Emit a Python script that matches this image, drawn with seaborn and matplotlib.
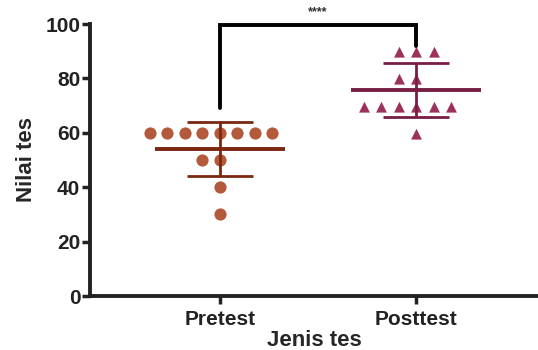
import pandas as pd
import seaborn as sns
import matplotlib.pyplot as plt
import numpy as np

# nilai per kelompok
groups = ['Pretest', 'Posttest']
pretest = [60, 60, 60, 60, 60, 60, 60, 60, 50, 50, 40, 30]
posttest = [90, 90, 90, 80, 80, 70, 70, 70, 70, 70, 70, 60]
dot_colors = ['#B35A3C', '#9C325A']
line_colors = ['#7A2810', '#781E45']
sig_label = '****'

df = pd.DataFrame({
    'Jenis tes': ['Pretest'] * len(pretest) + ['Posttest'] * len(posttest),
    'Nilai tes': pretest + posttest,
})

sns.set_style('ticks')
plt.rcParams['font.family'] = ['Liberation Sans', 'DejaVu Sans']

fig = plt.figure(figsize=(5.38, 3.5), dpi=100)
ax = fig.add_axes([90 / 538, 1 - 296 / 350, 1 - 90 / 538, (296 - 24) / 350])

# swarm of individual scores, circles for pretest, triangles for posttest
for g, c, m in zip(groups, dot_colors, ['o', '^']):
    sub = df.copy()
    sub.loc[sub['Jenis tes'] != g, 'Nilai tes'] = np.nan
    sns.swarmplot(data=sub, x='Jenis tes', y='Nilai tes', order=groups,
                  color=c, marker=m, size=10.4, edgecolor='white',
                  linewidth=1.6, ax=ax, zorder=2)

# mean +/- SD
stats = df.groupby('Jenis tes')['Nilai tes'].agg(['mean', 'std']).reindex(groups)
for i, g in enumerate(groups):
    mu, sd = stats.loc[g, 'mean'], stats.loc[g, 'std']
    lc = line_colors[i]
    ax.hlines(mu, i - 0.33, i + 0.33, color=lc, lw=2.8, zorder=3)
    ax.vlines(i, mu - sd, mu + sd, color=lc, lw=2, zorder=3)
    ax.hlines([mu - sd, mu + sd], i - 0.17, i + 0.17, color=lc, lw=2, zorder=3)

# significance bracket
ax.plot([0, 0, 1, 1], [69, 99.5, 99.5, 92], color='black', lw=2.8,
        clip_on=False, solid_joinstyle='miter', zorder=4)
ax.text(0.5, 102, sig_label, ha='center', va='bottom', fontsize=9,
        fontweight='bold', color='#333333')

ax.set_xlim(-0.663, 1.622)
ax.set_ylim(0, 100)
ax.set_yticks([0, 20, 40, 60, 80, 100])
ax.set_xlabel('Jenis tes', fontsize=16, fontweight='bold', labelpad=1)
ax.set_ylabel('Nilai tes', fontsize=16, fontweight='bold', labelpad=6)
for lab in ax.get_xticklabels() + ax.get_yticklabels():
    lab.set_fontweight('bold')
    lab.set_fontsize(15)
    lab.set_color('#222222')
ax.tick_params(axis='y', width=2.5, length=6, color='#222222', pad=1)
ax.tick_params(axis='x', width=2.5, length=6, color='#222222', pad=4)

sns.despine(ax=ax)
for s in ['left', 'bottom']:
    ax.spines[s].set_linewidth(2.8)
    ax.spines[s].set_color('#222222')

fig.savefig('out.png', dpi=100)
